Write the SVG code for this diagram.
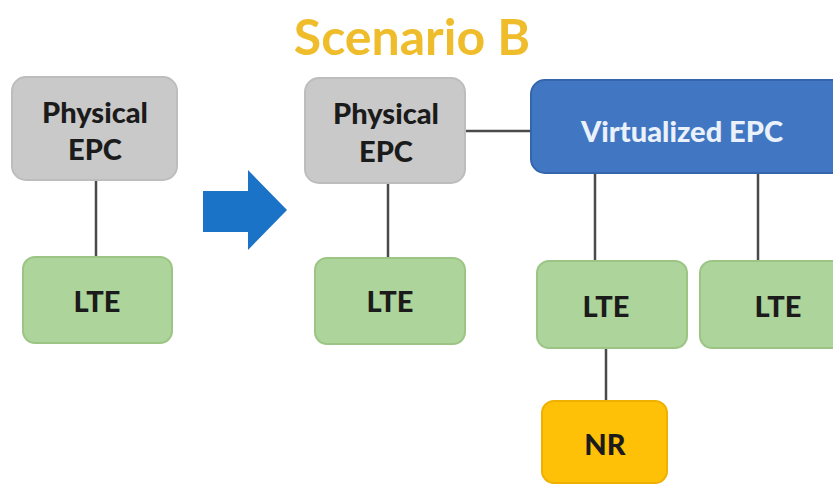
<svg xmlns="http://www.w3.org/2000/svg" width="833" height="494" viewBox="0 0 833 494">
  <style>
    .lbl { font-family: Lato, "Open Sans", "Liberation Sans", sans-serif; font-weight: 900; font-size: 29px; text-anchor: middle; dominant-baseline: central; fill: #1b1b1b; }
    .gray { fill: #c9c9c9; stroke: #bdbdbd; stroke-width: 2; }
    .green { fill: #add49a; stroke: #9cc585; stroke-width: 2; }
    .nr { fill: #ffc107; stroke: #efb000; stroke-width: 2; }
    .blue { fill: #4177c2; stroke: #3566ad; stroke-width: 2; }
    .wire { stroke: #4a4a4a; stroke-width: 2.5; fill: none; }
  </style>
  <rect width="833" height="494" fill="#ffffff"/>

  <!-- title -->
  <text x="412" y="36" font-family="Lato, 'Open Sans', 'Liberation Sans', sans-serif" font-weight="bold" font-size="50" fill="#efbd2b" text-anchor="middle" dominant-baseline="central">Scenario B</text>

  <!-- connectors -->
  <g id="connectors">
    <line class="wire" x1="96" y1="180" x2="96" y2="258"/>
    <line class="wire" x1="388" y1="183" x2="388" y2="258"/>
    <line class="wire" x1="465" y1="131" x2="531" y2="131"/>
    <line class="wire" x1="595" y1="173" x2="595" y2="261"/>
    <line class="wire" x1="758" y1="173" x2="758" y2="261"/>
    <line class="wire" x1="606" y1="348" x2="606" y2="401"/>
  </g>

  <!-- transition arrow -->
  <g id="arrow">
    <polygon points="203,191 248,191 248,170 287,210 248,250 248,232 203,232" fill="#1a73c6"/>
  </g>

  <g id="epc-left">
    <rect class="gray" x="12" y="77" width="165" height="103" rx="14"/>
    <text class="lbl" x="95" y="111">Physical</text>
    <text class="lbl" x="95" y="148">EPC</text>
  </g>
  <g id="lte-left">
    <rect class="green" x="23" y="257" width="149" height="86" rx="12"/>
    <text class="lbl" x="97" y="300">LTE</text>
  </g>

  <g id="epc-mid">
    <rect class="gray" x="305" y="78" width="160" height="105" rx="14"/>
    <text class="lbl" x="386" y="112">Physical</text>
    <text class="lbl" x="386" y="150">EPC</text>
  </g>
  <g id="lte-mid">
    <rect class="green" x="315" y="258" width="150" height="86" rx="12"/>
    <text class="lbl" x="390" y="300">LTE</text>
  </g>

  <g id="vepc">
    <rect class="blue" x="531" y="80" width="320" height="93" rx="14"/>
    <text class="lbl" x="682" y="130" style="fill:#eaf1fa">Virtualized EPC</text>
  </g>

  <g id="lte-1">
    <rect class="green" x="537" y="261" width="150" height="87" rx="12"/>
    <text class="lbl" x="606" y="305">LTE</text>
  </g>
  <g id="lte-2">
    <rect class="green" x="700" y="261" width="150" height="87" rx="12"/>
    <text class="lbl" x="778" y="305">LTE</text>
  </g>

  <g id="nr">
    <rect class="nr" x="542" y="401" width="125" height="82" rx="12"/>
    <text class="lbl" x="605" y="443">NR</text>
  </g>
</svg>
